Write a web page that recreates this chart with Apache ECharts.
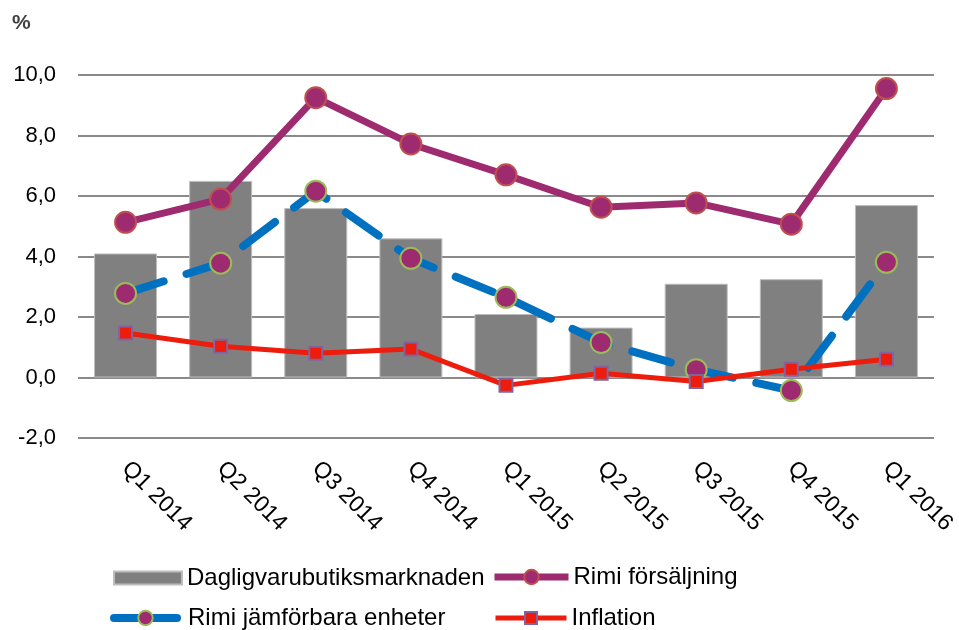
<!DOCTYPE html>
<html>
<head>
<meta charset="utf-8">
<title>Rimi</title>
</head>
<body style="margin:0">
<div id="main" style="width:959px;height:630px;"></div>
<script src="https://cdn.jsdelivr.net/npm/echarts@6/dist/echarts.min.js"></script>
<script>
	// data
	var quarters = ['Q1 2014', 'Q2 2014', 'Q3 2014', 'Q4 2014', 'Q1 2015', 'Q2 2015', 'Q3 2015', 'Q4 2015', 'Q1 2016'];
	var marknaden = [4.1, 6.5, 5.6, 4.6, 2.1, 1.65, 3.1, 3.25, 5.7];
	var forsaljning = [5.13, 5.9, 9.25, 7.72, 6.7, 5.63, 5.77, 5.07, 9.55];
	var jamforbara = [2.78, 3.78, 6.16, 3.94, 2.65, 1.16, 0.26, -0.43, 3.81];
	var inflation = [1.47, 1.03, 0.8, 0.94, -0.26, 0.14, -0.13, 0.27, 0.6];
	var yTicks = {min: -2, max: 10, interval: 2};

	var font = 'Liberation Sans, Arial, sans-serif';
	var legendText = {fontSize: 24, color: '#000', fontFamily: font};
	var myChart = echarts.init(document.getElementById('main'));

	// one legend per item so the 2x2 layout sits where the original has it
	function legendItem(name, left, top, w, h, pad, lineStyle, icon) {
		var l = {
			left: left - 5, top: top, itemWidth: w, itemHeight: h, itemGap: 0,
			data: [{name: name, icon: icon}]
		};
		if (lineStyle) l.lineStyle = lineStyle;
		l.textStyle = Object.assign({padding: [0, 0, 0, pad]}, legendText);
		return l;
	}

	myChart.setOption({
		backgroundColor: '#fff',
		animation: false,
		grid: {left: 78, right: 24, top: 75, bottom: 192},
		graphic: [{
			type: 'text', left: 12, top: 13,
			style: {text: '%', fontSize: 21, fontWeight: 'bold', fill: '#404040', fontFamily: font}
		}],
		legend: [
			legendItem('Dagligvarubutiksmarknaden', 113, 561, 68, 13, 0, null, 'rect'),
			legendItem('Rimi försäljning', 491, 560, 74, 18, 0, {width: 7}),
			legendItem('Rimi jämförbara enheter', 110, 601, 63, 18, 6, {width: 8, type: 'solid', cap: 'round'}),
			legendItem('Inflation', 493, 601, 71, 15, 0, {width: 5})
		],
		xAxis: {
			type: 'category',
			data: quarters,
			axisLine: {show: false, onZero: false},
			axisTick: {show: false},
			axisLabel: {rotate: -45, margin: 27, fontSize: 23, color: '#000', fontFamily: font}
		},
		yAxis: {
			type: 'value',
			min: yTicks.min, max: yTicks.max, interval: yTicks.interval,
			axisLine: {show: false},
			axisTick: {show: false},
			splitLine: {lineStyle: {color: '#8a8a8a', width: 2}},
			axisLabel: {
				margin: 22, fontSize: 22, color: '#000', fontFamily: font,
				formatter: function (v) { return v.toFixed(1).replace('.', ','); }
			}
		},
		series: [{
			name: 'Dagligvarubutiksmarknaden',
			type: 'bar',
			barWidth: 63,
			itemStyle: {color: '#808080', borderColor: '#bdbdbd', borderWidth: 1},
			data: marknaden
		}, {
			name: 'Rimi försäljning',
			type: 'line',
			symbol: 'circle', symbolSize: 21,
			lineStyle: {color: '#9e2a70', width: 7},
			itemStyle: {color: '#9e2a70', borderColor: '#c0504d', borderWidth: 2},
			data: forsaljning
		}, {
			name: 'Rimi jämförbara enheter',
			type: 'line',
			symbol: 'circle', symbolSize: 21,
			lineStyle: {color: '#0070c0', width: 8, type: [40, 24], cap: 'round'},
			itemStyle: {color: '#9e2a70', borderColor: '#9bbb59', borderWidth: 2},
			data: jamforbara
		}, {
			name: 'Inflation',
			type: 'line',
			symbol: 'rect', symbolSize: 13,
			lineStyle: {color: '#ee1c0c', width: 5},
			itemStyle: {color: '#ee1c0c', borderColor: '#8064a2', borderWidth: 2},
			data: inflation
		}]
	});
</script>
</body>
</html>
